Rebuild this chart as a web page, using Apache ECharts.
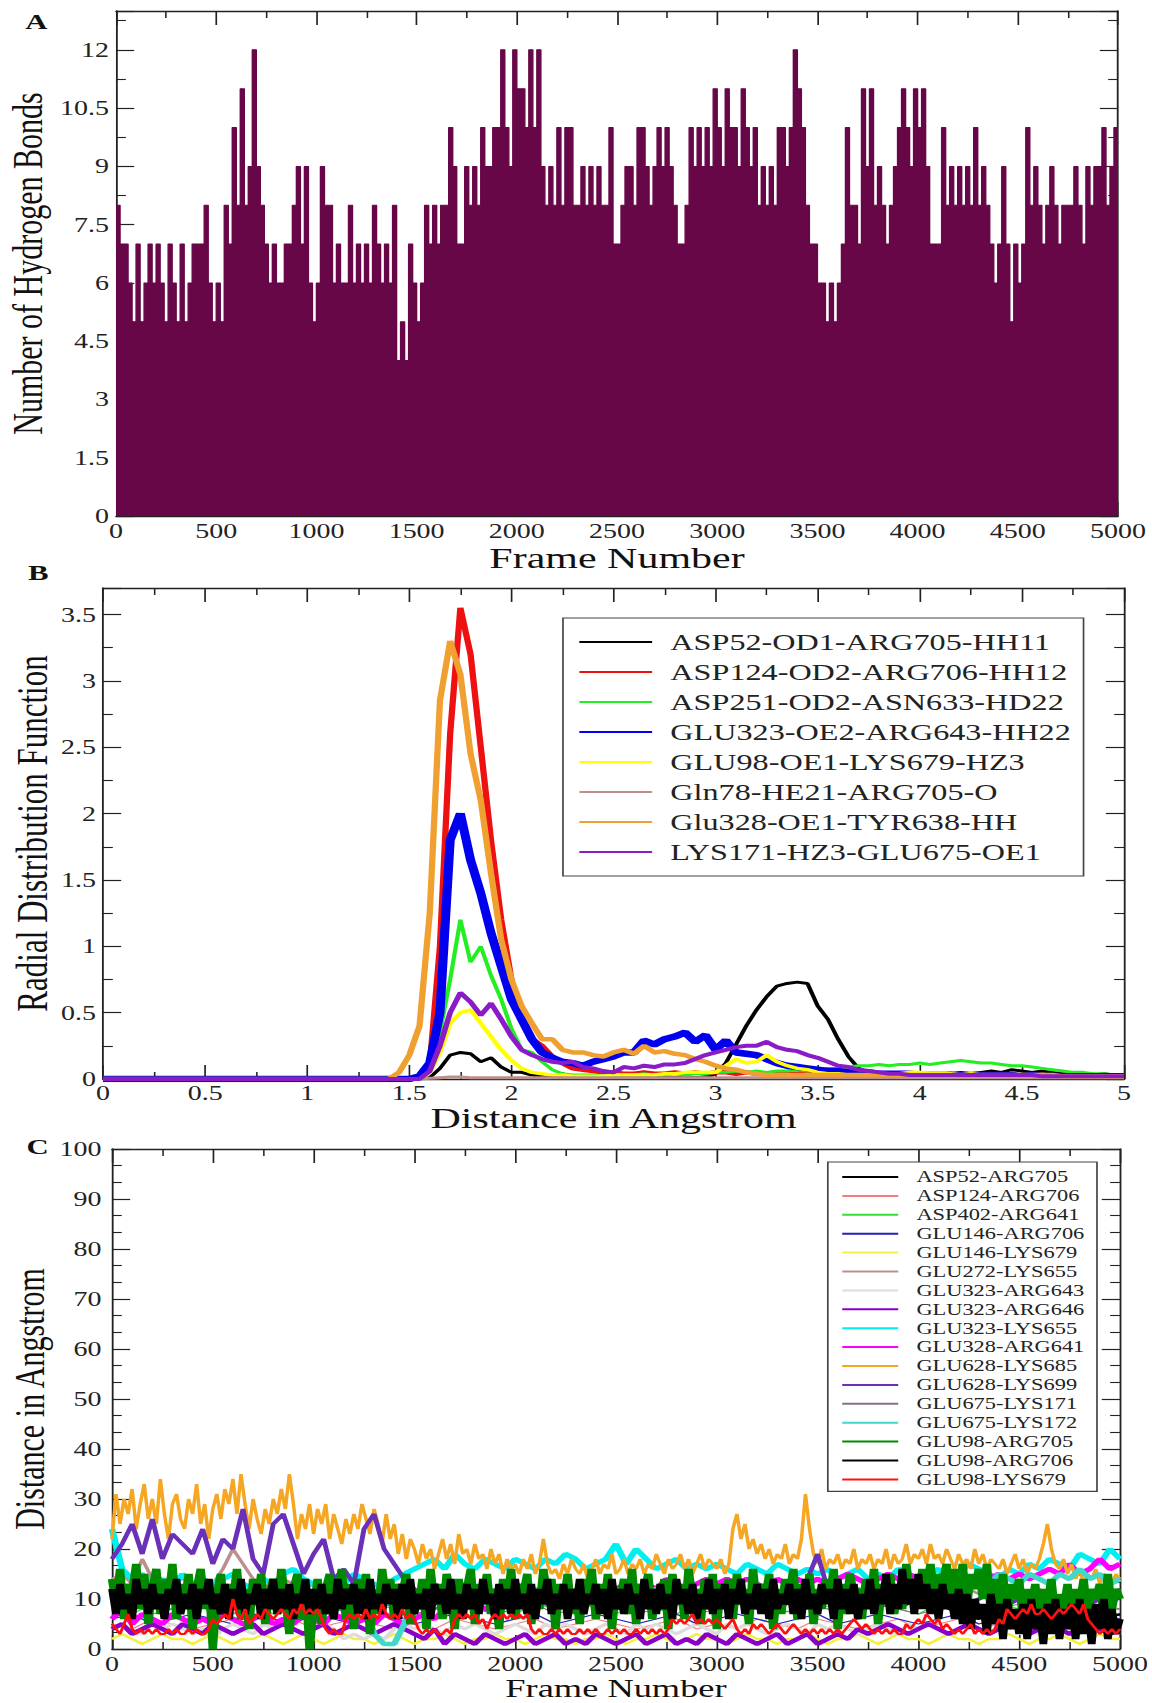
<!DOCTYPE html>
<html>
<head>
<meta charset="utf-8">
<script src="https://cdn.jsdelivr.net/npm/echarts@6/dist/echarts.min.js"></script>
<style>
  html, body { margin: 0; padding: 0; background: #ffffff; overflow: hidden; }
  /* the figure is laid out on a narrower canvas and widened, giving the broad xmgrace-style lettering */
  #chart { width: 823px; height: 1703px; transform: scaleX(1.39976); transform-origin: 0 0; }
</style>
</head>
<body>
<div id="chart"></div>
<script>
// ================= Panel A: number of hydrogen bonds per frame =================
const hbBinSize = 20; // frames per bin
const hbCounts = [
  8,7,7,6,5,7,5,6,7,6,
  7,6,5,7,6,5,7,5,6,7,
  7,7,8,6,5,6,5,8,7,10,
  8,11,8,9,12,9,8,7,6,7,
  6,6,7,7,8,9,7,9,6,5,
  6,9,8,8,6,7,6,6,8,6,
  7,6,7,6,8,7,6,7,6,8,
  4,5,4,7,6,5,6,8,7,8,
  7,8,8,10,9,7,7,9,8,9,
  8,10,9,9,10,10,12,10,9,12,
  11,11,10,12,10,12,9,8,9,8,
  10,8,10,10,8,8,9,8,9,8,
  9,8,8,10,7,7,8,9,9,8,
  10,10,9,8,9,10,9,10,9,8,
  7,7,8,10,9,10,9,10,9,11,
  10,9,11,10,10,9,11,10,9,10,
  8,9,8,9,8,10,10,9,10,12,
  11,10,8,7,7,6,6,5,6,5,
  6,7,10,8,8,7,11,9,11,8,
  9,8,7,8,9,10,11,10,9,11,
  10,11,9,7,7,7,10,8,9,8,
  9,8,9,8,10,8,9,8,7,6,
  7,9,7,5,7,6,7,10,8,9,
  8,7,8,9,8,7,8,8,8,9,
  8,7,9,8,9,9,10,8,9,10
];

// ================= Panel B: radial distribution functions =================
const rdfDistance = [
  0,1.4,1.45,1.5,1.55,1.6,1.65,1.7,1.75,1.8,
  1.85,1.9,1.95,2.0,2.05,2.1,2.15,2.2,2.25,2.3,
  2.35,2.4,2.45,2.5,2.55,2.6,2.65,2.7,2.75,2.8,
  2.85,2.9,2.95,3.0,3.05,3.1,3.15,3.2,3.25,3.3,
  3.35,3.4,3.45,3.5,3.55,3.6,3.65,3.7,3.75,3.8,
  3.85,3.9,3.95,4.0,4.05,4.1,4.15,4.2,4.25,4.3,
  4.35,4.4,4.45,4.5,4.55,4.6,4.65,4.7,4.75,4.8,
  4.85,4.9,4.95,5.0
];
const rdfNames = [
  'ASP52-OD1-ARG705-HH11','ASP124-OD2-ARG706-HH12','ASP251-OD2-ASN633-HD22','GLU323-OE2-ARG643-HH22',
  'GLU98-OE1-LYS679-HZ3','Gln78-HE21-ARG705-O','Glu328-OE1-TYR638-HH','LYS171-HZ3-GLU675-OE1'
];
const rdfAsp52 = [
  0,0,0,0,0,0.01,0.08,0.18,0.2,0.19,
  0.13,0.16,0.09,0.05,0.05,0.03,0.02,0.01,0.01,0.01,
  0.01,0.01,0.01,0.01,0.01,0.01,0.01,0.01,0.01,0.01,
  0.01,0.01,0.01,0.04,0.12,0.26,0.4,0.52,0.62,0.7,
  0.72,0.73,0.72,0.55,0.45,0.3,0.17,0.08,0.05,0.04,
  0.03,0.04,0.03,0.03,0.04,0.03,0.04,0.05,0.04,0.05,
  0.06,0.05,0.07,0.06,0.05,0.06,0.05,0.04,0.05,0.04,
  0.03,0.04,0.03,0.03
];
const rdfAsp124 = [
  0,0,0,0,0.01,0.1,1.0,2.6,3.55,3.2,
  2.5,1.8,1.2,0.75,0.45,0.3,0.25,0.17,0.12,0.08,
  0.07,0.06,0.05,0.05,0.04,0.04,0.05,0.04,0.04,0.05,
  0.04,0.05,0.04,0.05,0.05,0.04,0.05,0.04,0.04,0.05,
  0.04,0.04,0.05,0.04,0.04,0.03,0.04,0.03,0.03,0.04,
  0.03,0.03,0.04,0.03,0.03,0.03,0.04,0.03,0.03,0.03,
  0.03,0.03,0.03,0.02,0.03,0.03,0.02,0.03,0.02,0.02,
  0.03,0.02,0.02,0.02
];
const rdfAsp251 = [
  0,0,0,0,0,0.05,0.35,0.75,1.2,0.88,
  1.0,0.78,0.6,0.38,0.22,0.2,0.13,0.07,0.04,0.03,
  0.03,0.03,0.02,0.03,0.03,0.03,0.04,0.03,0.03,0.04,
  0.03,0.04,0.04,0.05,0.05,0.06,0.05,0.06,0.05,0.06,
  0.06,0.07,0.06,0.07,0.08,0.08,0.09,0.1,0.1,0.11,
  0.1,0.11,0.11,0.12,0.11,0.12,0.13,0.14,0.13,0.12,
  0.12,0.11,0.1,0.1,0.09,0.08,0.07,0.06,0.05,0.05,
  0.04,0.04,0.03,0.03
];
const rdfGlu323 = [
  0,0,0,0,0.02,0.12,0.5,1.8,2.0,1.65,
  1.4,1.1,0.85,0.6,0.45,0.3,0.2,0.16,0.13,0.12,
  0.1,0.13,0.15,0.17,0.2,0.2,0.29,0.26,0.3,0.32,
  0.35,0.28,0.33,0.22,0.29,0.2,0.19,0.18,0.15,0.12,
  0.1,0.09,0.08,0.07,0.06,0.06,0.05,0.05,0.05,0.04,
  0.04,0.04,0.04,0.03,0.03,0.03,0.03,0.03,0.03,0.03,
  0.03,0.03,0.03,0.02,0.03,0.02,0.02,0.02,0.02,0.02,
  0.02,0.02,0.02,0.02
];
const rdfGlu98 = [
  0,0,0,0,0,0.05,0.2,0.42,0.5,0.52,
  0.42,0.32,0.22,0.14,0.08,0.05,0.04,0.03,0.03,0.02,
  0.02,0.02,0.02,0.03,0.03,0.03,0.03,0.03,0.04,0.04,
  0.05,0.05,0.05,0.05,0.1,0.15,0.12,0.13,0.18,0.13,
  0.1,0.08,0.07,0.05,0.04,0.04,0.03,0.03,0.03,0.03,
  0.04,0.04,0.05,0.05,0.04,0.04,0.04,0.03,0.04,0.03,
  0.03,0.03,0.03,0.03,0.02,0.02,0.02,0.02,0.02,0.02,
  0.02,0.02,0.02,0.02
];
const rdfGln78 = [
  0,0,0,0,0,0.005,0.01,0.015,0.015,0.01,
  0.01,0.01,0.01,0.01,0.01,0.01,0.01,0.01,0.01,0.01,
  0.01,0.01,0.01,0.01,0.01,0.01,0.01,0.01,0.01,0.01,
  0.01,0.01,0.01,0.01,0.01,0.01,0.01,0.01,0.01,0.01,
  0.01,0.01,0.01,0.01,0.01,0.01,0.01,0.01,0.01,0.01,
  0.01,0.01,0.01,0.01,0.01,0.01,0.01,0.01,0.01,0.01,
  0.01,0.01,0.01,0.01,0.01,0.01,0.01,0.01,0.01,0.01,
  0.01,0.01,0.01,0.01
];
const rdfGlu328 = [
  0,0,0.05,0.18,0.4,1.25,2.85,3.3,3.05,2.45,
  2.1,1.55,1.05,0.75,0.55,0.42,0.3,0.3,0.22,0.2,
  0.2,0.18,0.17,0.2,0.22,0.19,0.25,0.2,0.21,0.19,
  0.18,0.15,0.13,0.1,0.08,0.07,0.05,0.04,0.03,0.03,
  0.03,0.03,0.03,0.03,0.03,0.03,0.03,0.03,0.03,0.03,
  0.03,0.03,0.03,0.03,0.03,0.03,0.03,0.03,0.03,0.03,
  0.03,0.03,0.03,0.03,0.03,0.03,0.03,0.02,0.02,0.02,
  0.02,0.02,0.02,0.02
];
const rdfLys171 = [
  0,0,0,0,0,0.06,0.25,0.5,0.65,0.58,
  0.48,0.57,0.45,0.32,0.22,0.18,0.15,0.13,0.12,0.13,
  0.09,0.08,0.06,0.05,0.09,0.08,0.1,0.09,0.11,0.11,
  0.12,0.15,0.18,0.2,0.22,0.24,0.25,0.25,0.28,0.24,
  0.22,0.21,0.18,0.16,0.13,0.1,0.09,0.07,0.06,0.05,
  0.04,0.04,0.03,0.03,0.03,0.03,0.03,0.03,0.03,0.03,
  0.03,0.03,0.03,0.03,0.03,0.02,0.02,0.02,0.02,0.02,
  0.02,0.02,0.02,0.02
];

// ================= Panel C: pair distances along the trajectory =================
// sampled every 20 frames
const fineStep = 20;
const glu98Arg706 = [
  12,7,13,8,11,6,14,9,12,7, 13,8,11,6,12,9,14,7,11,8, 13,6,12,9,14,8,11,7,13,6, 12,8,14,7,11,9,13,6,12,8,
  14,7,12,8,13,6,11,9,14,7, 12,8,13,7,11,6,14,8,12,9, 13,7,12,6,14,8,11,7,13,9, 12,6,13,8,14,7,11,8,12,6,
  13,9,12,7,14,8,11,6,13,8, 12,7,14,9,11,6,13,8,12,7, 14,8,11,7,13,6,12,9,14,7, 11,8,13,6,12,8,14,7,11,9,
  13,7,12,6,14,8,12,7,13,9, 11,6,14,8,12,7,13,8,11,6, 14,9,12,7,13,6,11,8,14,7, 12,8,13,6,12,9,14,7,11,8,
  13,7,12,6,14,8,11,9,13,7, 12,6,14,8,11,7,13,9,12,6, 14,8,12,7,13,6,11,8,14,7, 12,9,15,7,13,8,16,9,14,7,
  15,8,13,7,12,6,13,8,11,6, 12,5,11,4,10,6,9,3,11,5, 9,2,10,4,8,3,9,2,10,4, 8,1,9,3,10,2,8,4,9,2,
  10,3,8,1,9,4,10,2,8,3,6
];
const glu98Arg705 = [
  14,9,16,6,13,11,17,8,15,5, 12,16,7,14,10,17,6,13,9,15, 4,12,16,8,14,0,11,15,7,13, 10,16,6,12,4,14,9,15,5,11,
  14,7,16,10,3,12,15,6,13,0, 8,14,5,12,15,7,11,16,6,13, 4,14,9,15,3,12,7,16,10,14, 6,13,11,15,5,12,8,14,4,16,
  9,13,6,15,11,4,14,8,12,16, 5,13,10,15,7,12,4,14,9,16, 6,13,11,15,5,12,8,16,10,14, 4,13,9,15,7,12,5,14,11,16,
  6,13,8,15,4,12,10,14,7,16, 5,13,11,15,6,12,8,14,4,15, 9,13,6,16,10,12,5,14,8,15, 4,13,11,14,6,15,9,12,5,16,
  8,13,10,15,4,12,7,14,11,16, 6,13,9,15,5,12,8,14,10,16, 4,13,7,15,11,12,6,14,9,16, 5,13,10,15,7,12,8,17,11,14,
  9,16,12,17,10,15,13,17,9,16, 11,17,8,15,12,16,10,17,7,14, 9,15,6,13,10,14,5,12,8,13, 4,12,9,14,6,11,8,13,5,12,
  9,14,6,12,10,13,7,15,8,12,10
];
const glu98Lys679 = [
  5,4,3,5,7,4,3,4,3,4, 3,4,3,3,4,3,4,3,3,4, 3,4,3,3,4,6,5,6,7,6, 10,7,6,8,5,6,7,6,8,7,
  6,7,8,7,6,8,7,9,7,8, 7,8,6,4,3,4,3,3,6,7, 6,7,6,8,6,7,6,9,7,6, 7,6,8,6,7,6,4,3,4,3,
  4,3,3,4,3,6,7,6,7,6, 7,5,6,4,6,7,6,7,6,7, 6,7,6,7,4,3,4,3,3,4, 3,4,3,4,3,3,4,3,4,3,
  4,3,3,4,3,4,3,4,3,3, 4,3,4,3,4,3,4,3,4,6, 5,6,5,6,7,5,6,5,6,5, 6,5,4,5,6,4,3,4,3,5,
  4,5,4,3,4,5,4,3,4,5, 4,3,4,3,4,3,4,3,4,3, 4,3,4,5,6,5,4,5,4,3, 4,3,4,3,4,3,3,5,4,5,
  6,5,7,6,5,6,4,5,4,3, 4,3,4,5,3,4,3,4,3,4, 6,5,8,7,6,7,8,7,9,7, 7,8,7,6,7,8,7,8,9,8,
  7,9,6,5,4,3,4,3,4,3,4
];
const glu628Lys685 = [
  22,31,25,30,27,32,24,29,33,26, 30,25,34,27,22,29,31,26,24,30, 27,33,25,29,22,28,31,26,32,29, 34,27,35,29,24,30,26,23,28,25,
  30,27,32,28,35,29,22,27,24,29, 23,28,25,29,22,27,24,21,26,23, 27,24,29,26,23,28,25,21,27,22, 25,19,23,18,22,20,17,21,18,20,
  16,19,22,18,21,17,23,19,20,17, 21,18,19,16,20,17,19,15,18,16, 17,15,18,16,19,15,17,22,17,15, 16,14,17,15,18,16,15,17,14,16,
  18,15,17,16,19,15,16,18,15,17, 16,18,15,17,16,19,17,15,18,16, 17,19,16,18,15,17,19,16,18,17, 16,18,15,17,24,27,22,25,20,22,
  19,21,18,20,17,19,18,21,17,19, 18,22,31,24,19,17,20,16,18,17, 19,16,18,17,20,16,18,17,19,16, 18,17,20,16,19,17,18,21,17,19,
  18,20,17,21,18,19,17,20,18,16, 19,17,18,16,20,17,19,16,18,17, 16,18,15,17,19,16,18,15,17,16, 18,21,25,20,17,16,18,15,17,14,
  16,13,15,14,16,13,15,14,13,15,14
];
// sampled every 50 frames
const midStep = 50;
const glu323Lys655 = [
  24,16,14,15,13,14,12,15,13,14, 13,14,15,13,12,14,13,15,16,14, 13,12,14,13,15,14,13,12,14,15,
  16,17,18,16,19,17,16,18,17,16, 18,17,16,18,17,19,18,16,17,18, 21,17,20,18,16,17,18,16,17,16,
  17,16,15,17,16,15,17,16,15,16, 15,16,14,15,16,14,15,14,16,15, 14,15,16,14,15,17,16,15,14,16,
  15,17,16,18,17,16,19,18,17,20,18
];
const glu328Arg641 = [
  6,8,5,7,6,5,7,6,5,6, 5,7,6,5,6,7,5,6,5,7, 6,5,7,6,5,6,5,7,6,5,
  6,7,6,8,7,8,9,8,9,10, 9,10,11,10,11,12,11,12,11,12, 12,13,12,13,12,14,13,12,13,14,
  13,14,13,14,13,12,14,13,14,13, 14,13,14,15,14,13,14,15,14,15, 14,15,14,13,15,14,15,14,15,14,
  15,14,15,16,15,17,15,16,18,16,17
];
const glu675Lys172 = [
  11,9,12,10,11,9,10,12,9,11, 10,9,11,10,12,9,11,10,9,11, 10,11,9,10,11,10,3,1,1,5,
  10,11,9,10,12,11,10,9,11,10, 11,10,12,11,10,12,11,10,11,12, 11,12,10,11,12,11,10,12,11,10,
  12,11,10,11,12,10,11,12,11,10, 11,12,11,10,12,11,12,11,10,12, 11,12,13,12,11,13,14,13,15,14,
  13,15,14,13,15,14,16,14,15,13,14
];
const glu628Lys699 = [
  18,21,25,19,26,18,23,21,19,24, 17,22,20,28,18,15,25,27,21,15, 19,22,14,16,13,24,27,20,17,14,
  12,10,11,9,10,11,9,10,11,10, 9,11,10,9,10,11,10,9,10,11, 10,9,11,10,9,10,11,10,9,10,
  11,10,9,10,11,10,9,10,11,14, 19,12,10,9,10,11,10,9,10,11, 10,9,10,11,10,9,10,11,10,9,
  10,11,10,9,10,11,10,9,10,11,10
];
const glu272Lys655 = [
  14,15,13,18,14,13,15,14,13,14, 13,16,20,17,14,13,12,14,13,12, 13,12,11,12,13,12,11,12,11,12,
  11,12,11,10,12,11,10,11,12,11, 10,11,12,11,10,11,12,10,11,12, 11,10,11,12,11,10,12,11,10,11,
  12,11,10,11,12,11,10,12,11,10, 11,12,10,11,12,11,10,11,12,11, 10,11,12,11,10,12,11,10,11,12,
  11,10,12,11,10,11,12,11,10,11,12
];
const glu146Lys679 = [
  2,3,2,1,2,3,2,2,1,2, 3,2,1,2,2,3,2,1,2,3, 2,1,2,3,2,2,1,2,3,2,
  1,2,2,3,2,1,2,2,3,2, 2,1,2,3,2,2,1,2,2,3, 2,1,2,2,3,2,1,2,3,2,
  2,1,2,3,2,2,1,2,2,3, 2,1,2,2,3,2,1,2,3,2, 2,1,2,3,2,2,1,2,2,3,
  2,1,2,2,3,2,1,2,3,2,2
];
const glu323Arg643 = [
  4,5,4,3,5,4,5,4,3,4, 2,4,5,4,3,5,4,5,4,3, 4,5,4,2,3,2,3,2,4,5,
  4,5,4,3,5,4,5,4,3,4, 5,4,3,5,4,5,4,3,4,5, 4,3,5,4,5,4,3,4,5,4,
  3,5,4,5,4,3,4,5,4,3, 5,4,5,4,3,4,5,4,3,5, 4,5,4,3,4,5,4,3,5,4,
  5,4,3,4,5,4,3,5,4,5,4
];
const glu323Arg646 = [
  4,5,3,4,5,4,3,5,4,3, 5,4,3,4,5,3,4,5,4,3, 4,5,3,4,5,4,3,4,5,4,
  3,2,4,1,3,2,1,3,2,1, 2,3,1,2,3,1,2,1,3,2, 1,2,3,1,2,3,1,2,1,3,
  2,1,3,2,1,2,3,1,2,3, 1,2,3,2,4,3,4,5,4,3, 4,5,4,3,4,5,4,3,4,5,
  4,3,4,5,4,3,4,5,4,3,4
];
// sampled every 100 frames
const coarseStep = 100;
const asp52Arg705 = [9,10,8,11,9,10,8,9,11,10, 9,8,10,11,9,10,8,9,10,11, 9,10,8,9,11,10,9,8,10,9, 11,10,9,8,10,9,11,10,9,8, 10,9,7,6,8,7,6,7,8,6, 7];
const asp124Arg706 = [5,4,6,5,4,5,6,4,5,6, 4,5,6,5,4,5,4,6,5,4, 5,6,4,5,6,5,4,5,6,4, 5,4,6,5,4,6,5,4,5,6, 4,5,6,4,5,4,6,5,4,5, 6];
const asp402Arg641 = [8,7,9,8,10,7,8,9,7,8, 9,8,7,9,8,10,8,7,9,8, 7,9,8,10,8,7,9,8,7,9, 8,10,9,8,7,9,8,10,9,8, 7,9,8,7,9,8,10,8,9,7, 8];
const glu146Arg706 = [6,7,5,6,7,6,5,7,6,5, 7,6,5,6,7,5,6,7,6,5, 6,7,5,6,7,6,5,6,7,5, 6,7,6,5,6,7,5,6,7,6, 5,6,7,5,6,7,6,5,6,7, 6];
const glu675Lys171 = [8,9,7,8,9,8,7,9,8,7, 9,8,7,8,9,7,8,9,8,7, 8,9,7,8,9,8,7,8,9,7, 8,9,8,7,8,9,7,8,9,8, 7,8,9,7,8,9,8,7,8,9, 8];

// ================= styling =================
const SERIF = 'Liberation Serif';
const AXIS_COLOR = '#222';
const MAROON = '#670748';

const rdfStyles = [
  ['#000000', 3], ['#ee1111', 4.5], ['#22ee22', 3], ['#0000ee', 6.5],
  ['#ffff00', 3.5], ['#bc8f8f', 3], ['#f0a030', 4.5], ['#8a1cc8', 4]
];
const rdfValues = [rdfAsp52, rdfAsp124, rdfAsp251, rdfGlu323, rdfGlu98, rdfGln78, rdfGlu328, rdfLys171];

// name, values, sampling step, colour, width (drawing order = legend order)
const distSets = [
  ['ASP52-ARG705', asp52Arg705, coarseStep, '#000000', 2],
  ['ASP124-ARG706', asp124Arg706, coarseStep, '#f08080', 1],
  ['ASP402-ARG641', asp402Arg641, coarseStep, '#33dd33', 1.3],
  ['GLU146-ARG706', glu146Arg706, coarseStep, '#2222bb', 1.3],
  ['GLU146-LYS679', glu146Lys679, midStep, '#f5f040', 2.3],
  ['GLU272-LYS655', glu272Lys655, midStep, '#bc8f8f', 2.7],
  ['GLU323-ARG643', glu323Arg643, midStep, '#dcdcdc', 3],
  ['GLU323-ARG646', glu323Arg646, midStep, '#8a00c8', 4],
  ['GLU323-LYS655', glu323Lys655, midStep, '#00f0f0', 4.7],
  ['GLU328-ARG641', glu328Arg641, midStep, '#ff00ff', 4.7],
  ['GLU628-LYS685', glu628Lys685, fineStep, '#f5a623', 2.5],
  ['GLU628-LYS699', glu628Lys699, midStep, '#6a30b8', 3.5],
  ['GLU675-LYS171', glu675Lys171, coarseStep, '#8c6c8c', 1],
  ['GLU675-LYS172', glu675Lys172, midStep, '#40d8c8', 4.7],
  ['GLU98-ARG705', glu98Arg705, fineStep, '#008a00', 6],
  ['GLU98-ARG706', glu98Arg706, fineStep, '#000000', 5.5],
  ['GLU98-LYS679', glu98Lys679, fineStep, '#ff1010', 2.2]
];

// ================= axes =================
const plainNumber = v => String(v);

function makeXAxis(gridIndex, position, min, max, interval, labelMargin, name, nameGap, nameSize) {
  const main = position === 'bottom';
  return {
    type: 'value', gridIndex, position, min, max, interval,
    axisLine: { show: true, onZero: false, lineStyle: { color: AXIS_COLOR, width: 1.3 } },
    axisTick: { show: true, inside: true, length: 14, lineStyle: { color: AXIS_COLOR, width: 1.2 } },
    minorTick: { show: true, splitNumber: 2, length: 7, lineStyle: { color: AXIS_COLOR, width: 1.1 } },
    splitLine: { show: false }, minorSplitLine: { show: false },
    axisLabel: { show: main, margin: labelMargin, fontFamily: SERIF, fontSize: 20, color: '#222', formatter: plainNumber },
    name: main ? name : '', nameLocation: 'middle', nameGap, nameMoveOverlap: false,
    nameTextStyle: { fontFamily: SERIF, fontSize: nameSize, color: '#111' }
  };
}
function makeYAxis(gridIndex, position, min, max, interval, minorSplit, labelTop, labelMargin, name, nameGap, nameSize) {
  const main = position === 'left';
  return {
    type: 'value', gridIndex, position, min, max, interval,
    axisLine: { show: true, onZero: false, lineStyle: { color: AXIS_COLOR, width: 1.3 } },
    axisTick: { show: true, inside: true, length: 13, lineStyle: { color: AXIS_COLOR, width: 1.2 } },
    minorTick: { show: true, splitNumber: minorSplit, length: 7, lineStyle: { color: AXIS_COLOR, width: 1.1 } },
    splitLine: { show: false }, minorSplitLine: { show: false },
    axisLabel: {
      show: main, margin: labelMargin, fontFamily: SERIF, fontSize: 20, color: '#222',
      formatter: v => (v > labelTop + 1e-9 ? '' : String(v))
    },
    name: main ? name : '', nameLocation: 'middle', nameGap, nameMoveOverlap: false,
    nameTextStyle: { fontFamily: SERIF, fontSize: nameSize, color: '#111' }
  };
}

const xAxes = [
  makeXAxis(0, 'bottom', 0, 5000, 500, 5, 'Frame Number', 27, 30),
  makeXAxis(0, 'top', 0, 5000, 500, 5, '', 0, 30),
  makeXAxis(1, 'bottom', 0, 5, 0.5, 4, 'Distance in Angstrom', 24, 30),
  makeXAxis(1, 'top', 0, 5, 0.5, 4, '', 0, 30),
  makeXAxis(2, 'bottom', 0, 5000, 500, 5, 'Frame Number', 26, 26),
  makeXAxis(2, 'top', 0, 5000, 500, 5, '', 0, 26)
];
const yAxes = [
  makeYAxis(0, 'left', 0, 13, 1.5, 2, 12, 5, 'Number of Hydrogen Bonds', 48, 30),
  makeYAxis(0, 'right', 0, 13, 1.5, 2, 12, 5, '', 0, 30),
  makeYAxis(1, 'left', 0, 3.7, 0.5, 2, 3.5, 5, 'Radial Distribution Function', 35, 31),
  makeYAxis(1, 'right', 0, 3.7, 0.5, 2, 3.5, 5, '', 0, 31),
  makeYAxis(2, 'left', 0, 100, 10, 3, 100, 7.5, 'Distance in Angstrom', 44, 30),
  makeYAxis(2, 'right', 0, 100, 10, 3, 100, 7.5, '', 0, 30)
];

// ================= series =================
const hbData = hbCounts.map((v, i) => [i * hbBinSize, v]);
hbData.push([hbCounts.length * hbBinSize, hbCounts[hbCounts.length - 1]]);

const series = [{
  type: 'line', name: 'Hydrogen bonds', xAxisIndex: 0, yAxisIndex: 0,
  step: 'end', symbol: 'none', data: hbData,
  lineStyle: { color: MAROON, width: 1 },
  areaStyle: { color: MAROON, opacity: 1 }
}];

rdfNames.forEach((name, k) => {
  series.push({
    type: 'line', name, xAxisIndex: 2, yAxisIndex: 2, symbol: 'none',
    data: rdfDistance.map((d, i) => [d, rdfValues[k][i]]),
    lineStyle: { color: rdfStyles[k][0], width: rdfStyles[k][1] },
    itemStyle: { color: rdfStyles[k][0] }
  });
});

distSets.forEach(([name, values, step, color, width]) => {
  series.push({
    type: 'line', name, xAxisIndex: 4, yAxisIndex: 4, symbol: 'none',
    data: values.map((v, i) => [i * step, v]),
    lineStyle: { color, width },
    itemStyle: { color }
  });
});

// legend entries show the line only, without a marker
const legendMarkerOff = { color: 'rgba(0,0,0,0)', borderWidth: 0, opacity: 0 };

// ================= chart =================
const chart = echarts.init(document.getElementById('chart'), null, { renderer: 'svg' });
chart.setOption({
  animation: false,
  backgroundColor: '#ffffff',
  title: [
    { text: 'A', left: 18, top: 11, padding: 0, textStyle: { fontFamily: SERIF, fontWeight: 'bold', fontSize: 22, color: '#111' } },
    { text: 'B', left: 20, top: 562, padding: 0, textStyle: { fontFamily: SERIF, fontWeight: 'bold', fontSize: 22, color: '#111' } },
    { text: 'C', left: 19, top: 1136, padding: 0, textStyle: { fontFamily: SERIF, fontWeight: 'bold', fontSize: 22, color: '#111' } }
  ],
  grid: [
    { left: 82.9, top: 11, width: 715.8, height: 505, outerBoundsMode: 'none' },
    { left: 73.6, top: 588, width: 729.4, height: 491, outerBoundsMode: 'none' },
    { left: 80.0, top: 1149, width: 720.1, height: 500, outerBoundsMode: 'none' }
  ],
  xAxis: xAxes,
  yAxis: yAxes,
  legend: [
    {
      data: rdfNames, orient: 'vertical', left: 402.2, top: 618,
      itemWidth: 52, itemHeight: 14, itemGap: 6, padding: [12, 9, 12, 10.7],
      borderColor: '#444', borderWidth: 1.2, backgroundColor: '#ffffff', selectedMode: false,
      itemStyle: legendMarkerOff,
      textStyle: { fontFamily: SERIF, fontSize: 23, color: '#222', lineHeight: 24, padding: [0, 0, 0, 8] }
    },
    {
      data: distSets.map(s => s[0]), orient: 'vertical', left: 591.4, top: 1162,
      itemWidth: 40, itemHeight: 12, itemGap: 2.9, padding: [7, 9, 4, 9.3],
      borderColor: '#444', borderWidth: 1.2, backgroundColor: '#ffffff', selectedMode: false,
      itemStyle: legendMarkerOff,
      textStyle: { fontFamily: SERIF, fontSize: 16, color: '#222', lineHeight: 16, padding: [0, 0, 0, 8] }
    }
  ],
  series
});
</script>
</body>
</html>
